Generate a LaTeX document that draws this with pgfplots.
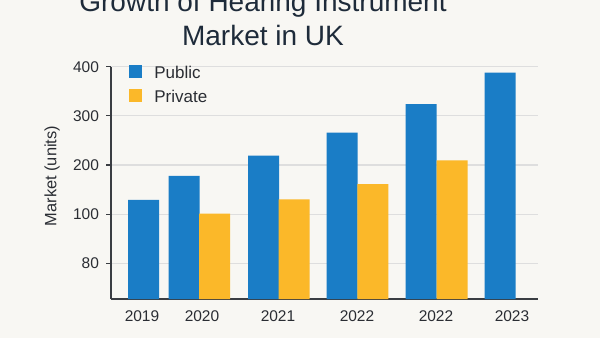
\documentclass[border=0pt]{standalone}
\usepackage{pgfplots}
\pgfplotsset{compat=1.18}
\usepackage{fontspec}
\setmainfont{Liberation Sans}
\definecolor{bg}{HTML}{F8F7F3}
\definecolor{pub}{HTML}{1A7DC6}
\definecolor{pri}{HTML}{FBB829}
\definecolor{grd}{HTML}{DEDEDE}
\definecolor{txt}{HTML}{2A2D33}
\definecolor{ttl}{HTML}{1E2B3A}
\definecolor{axl}{HTML}{3A3D42}
\begin{document}
\begin{tikzpicture}[x=1pt,y=1pt]
\fill[bg] (0,0) rectangle (300,169);
\useasboundingbox (0,0) rectangle (300,169);
\node[anchor=base, inner sep=0pt, font=\fontsize{14}{16}\selectfont, text=ttl] at (131.5,163.2) {Growth of Hearing Instrument};
\node[anchor=base, inner sep=0pt, font=\fontsize{14}{16}\selectfont, text=ttl] at (131.5,146.2) {Market in UK};
\begin{axis}[
  at={(55.5pt,19.5pt)}, anchor=south west,
  scale only axis, width=213.5pt, height=116.15pt,
  xmin=111, xmax=538, ymin=0, ymax=472.6,
  axis lines*=left,
  axis line style={draw=axl, line width=0.7pt},
  y filter/.expression={y+72.6},
  ytick={72.6,172.6,272.6,372.6,472.6},
  yticklabels={80,100,200,300,400},
  xtick={142,202,278,357,436,512},
  xticklabels={2019,2020,2021,2022,2022,2023},
  ymajorgrids, grid style={draw=grd, line width=0.6pt},
  tick align=outside, major tick length=2.5pt,
  xtick style={draw=none}, ytick style={draw=axl, line width=0.6pt},
  /pgf/number format/assume math mode=true,
  tick label style={font=\fontsize{7.75}{9}\selectfont, text=txt},
  xticklabel style={yshift=0pt},
  ylabel={Market (units)},
  ylabel style={at={(axis description cs:-0.138,0.529)}, anchor=center, font=\fontsize{8.2}{10}\selectfont, text=txt},
  legend style={at={(axis description cs:0.042,1.007)}, anchor=north west, draw=none, fill=none, inner sep=0pt, row sep=5pt,
    font=\fontsize{8.5}{10}\selectfont, text=txt,
    nodes={inner sep=0pt, text height=6.5pt, text depth=0pt}},
  legend cell align=left,
  legend image code/.code={\fill[#1] (0pt,-3pt) rectangle (6.5pt,3.5pt); \path[draw=none,fill=none] (0pt,-3pt) rectangle (12.5pt,3.5pt);},
]
\addplot[ybar, bar width=31, bar shift=0pt, fill=pub, draw=none] coordinates {(143.5,129) (184,178) (263.5,219) (342,266) (421.2,324) (500.2,388)};
\addlegendentry{Public}
\addplot[ybar, bar width=31, bar shift=0pt, fill=pri, draw=none] coordinates {(214.5,101) (294,130) (372.8,161) (452.2,209.5)};
\addlegendentry{Private}
\end{axis}
\end{tikzpicture}
\end{document}
